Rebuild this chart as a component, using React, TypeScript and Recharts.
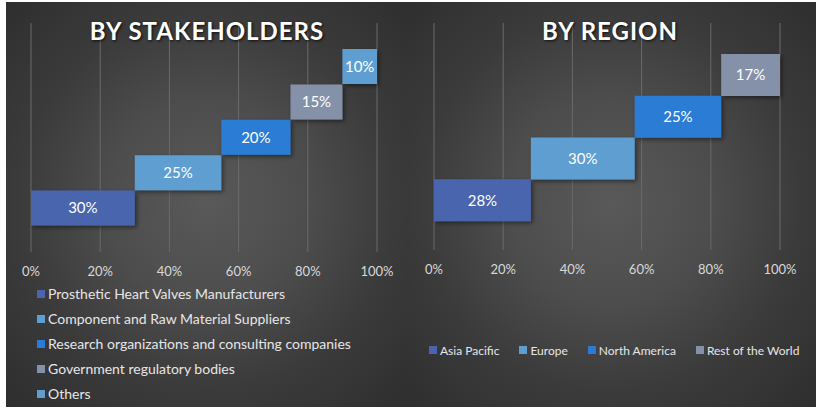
import { Bar, BarChart, CartesianGrid, Cell, LabelList, XAxis, YAxis } from "recharts";

const stakeholderNames = [
  "Prosthetic Heart Valves Manufacturers",
  "Component and Raw Material Suppliers",
  "Research organizations and consulting companies",
  "Government regulatory bodies",
  "Others",
];
const stakeholderShares = [30, 25, 20, 15, 10];

const regionNames = ["Asia Pacific", "Europe", "North America", "Rest of the World"];
const regionShares = [28, 30, 25, 17];

const percentTicks = [0, 20, 40, 60, 80, 100];

const stakeholderColors = ["#4a65ad", "#5f9ed1", "#2b7bd5", "#8591a9", "#5f9ed1"];
const regionColors = ["#4a65ad", "#5f9ed1", "#2b7bd5", "#8591a9"];

const FONT = "Lato, 'Open Sans', sans-serif";

// waterfall rows: invisible base = running total, visible part = share
function steps(names: string[], shares: number[]) {
  let run = 0;
  return names.map((name, i) => {
    const row = { name, base: run, share: shares[i] };
    run += shares[i];
    return row;
  });
}

type Row = { name: string; base: number; share: number };

function StepChart({
  data,
  colors,
  margin,
  padding,
  id,
}: {
  data: Row[];
  colors: string[];
  margin: { top: number; right: number; bottom: number; left: number };
  padding: { top: number; bottom: number };
  id: string;
}) {
  return (
    <BarChart width={408} height={411} data={data} layout="vertical" margin={margin} barCategoryGap={0}>
      <defs>
        <filter id={id} x="-20%" y="-20%" width="140%" height="160%">
          <feDropShadow dx="2" dy="2" stdDeviation="2" floodColor="#000" floodOpacity="0.45" />
        </filter>
      </defs>
      <CartesianGrid horizontal={false} stroke="#6a6a6a" />
      <XAxis
        type="number"
        domain={[0, 100]}
        ticks={percentTicks}
        tickFormatter={(v: number) => v + "%"}
        axisLine={false}
        tickLine={false}
        tickSize={0}
        tickMargin={15}
        height={30}
        tick={{ fill: "#d9d9d9", fontSize: 13, fontFamily: FONT }}
      />
      <YAxis type="category" dataKey="name" hide reversed padding={padding} />
      <Bar dataKey="base" stackId="s" fill="transparent" isAnimationActive={false} />
      <Bar dataKey="share" stackId="s" isAnimationActive={false}>
        {data.map((d, i) => (
          <Cell key={d.name} fill={colors[i]} filter={`url(#${id})`} />
        ))}
        <LabelList
          dataKey="share"
          position="center"
          formatter={(v: number) => v + "%"}
          fill="#ffffff"
          style={{ fontSize: 15, fontFamily: FONT }}
        />
      </Bar>
    </BarChart>
  );
}

const titleStyle: React.CSSProperties = {
  position: "absolute",
  top: 16,
  width: 408,
  textAlign: "center",
  color: "#ffffff",
  fontFamily: FONT,
  fontWeight: 700,
  fontSize: 24,
  letterSpacing: 1,
  lineHeight: "30px",
  textShadow: "1px 1px 3px rgba(0,0,0,0.8)",
};

const legendText: React.CSSProperties = {
  color: "#e6e6e6",
  fontFamily: FONT,
  fontSize: 14,
  whiteSpace: "nowrap",
};

function Swatch({ color }: { color: string }) {
  return <span style={{ display: "inline-block", width: 8, height: 8, background: color, marginRight: 3 }} />;
}

export default function App() {
  const left = steps(stakeholderNames, stakeholderShares);
  const right = steps(regionNames, regionShares);
  return (
    <div style={{ position: "relative", width: 816, height: 411, background: "#fff", overflow: "hidden" }}>
      <style>{"body{margin:0}"}</style>
      <div
        style={{
          position: "absolute",
          left: 6,
          top: 2,
          width: 402,
          height: 405,
          background: "radial-gradient(circle at 201px 200px, #595959 0%, #4d4d4d 35%, #3b3b3b 65%, #2e2e2e 100%)",
        }}
      />
      <div
        style={{
          position: "absolute",
          left: 408,
          top: 2,
          width: 408,
          height: 405,
          background: "radial-gradient(circle at 202px 200px, #595959 0%, #4d4d4d 35%, #3b3b3b 65%, #2e2e2e 100%)",
        }}
      />
      <div style={{ position: "absolute", left: 0, top: 0 }}>
        <StepChart
          id="shL"
          data={left}
          colors={stakeholderColors}
          margin={{ top: 23, right: 31, bottom: 129, left: 31 }}
          padding={{ top: 26, bottom: 26 }}
        />
      </div>
      <div style={{ position: "absolute", left: 408, top: 0 }}>
        <StepChart
          id="shR"
          data={right}
          colors={regionColors}
          margin={{ top: 23, right: 36, bottom: 131, left: 26 }}
          padding={{ top: 31, bottom: 29 }}
        />
      </div>
      <div style={{ ...titleStyle, left: 3 }}>BY STAKEHOLDERS</div>
      <div style={{ ...titleStyle, left: 406 }}>BY REGION</div>
      <div style={{ position: "absolute", left: 37, top: 281 }}>
        {stakeholderNames.map((n, i) => (
          <div key={n} style={{ ...legendText, height: 25, display: "flex", alignItems: "center" }}>
            <Swatch color={stakeholderColors[i]} />
            {n}
          </div>
        ))}
      </div>
      <div style={{ position: "absolute", left: 429, top: 340, display: "flex", gap: 20, alignItems: "center" }}>
        {regionNames.map((n, i) => (
          <div key={n} style={{ ...legendText, fontSize: 12, display: "flex", alignItems: "center", height: 20 }}>
            <Swatch color={regionColors[i]} />
            {n}
          </div>
        ))}
      </div>
    </div>
  );
}
